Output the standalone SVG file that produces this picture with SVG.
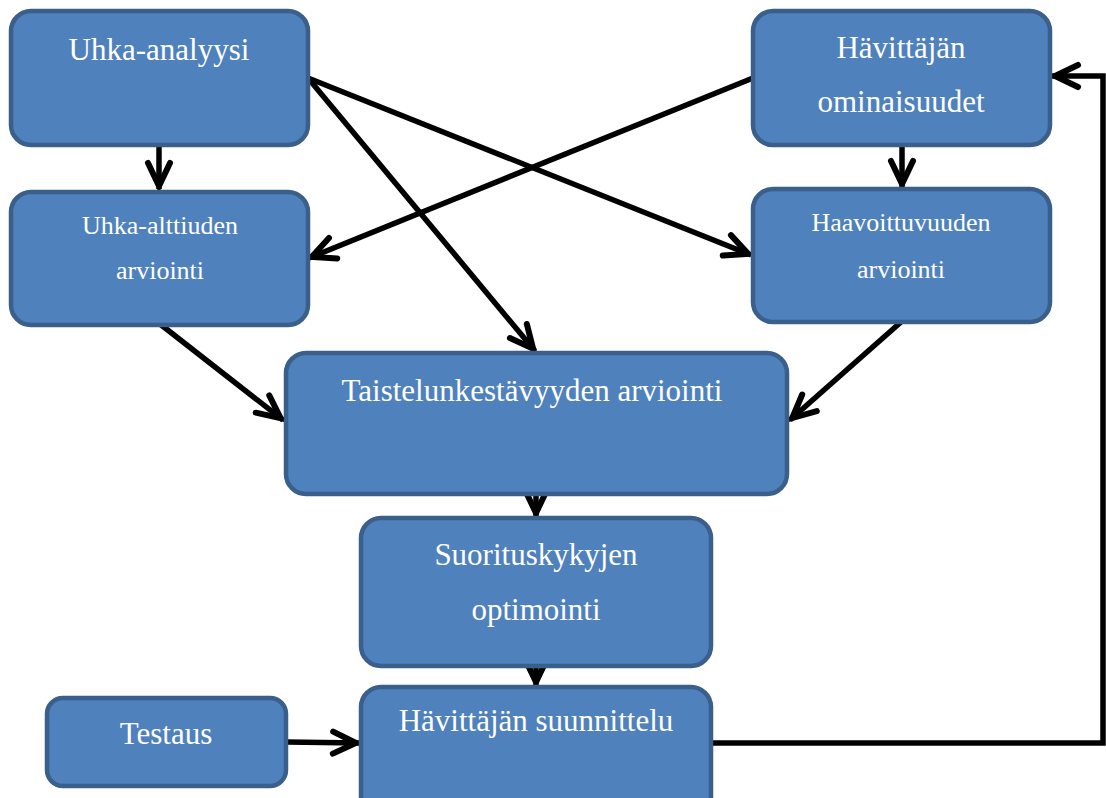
<svg xmlns="http://www.w3.org/2000/svg" width="1106" height="798" viewBox="0 0 1106 798">
<style>
.box{fill:#4F81BD;stroke:#3A5F8B;stroke-width:4.5}
.t{font-family:"Liberation Serif","Times New Roman",serif;fill:#FFFFFF;text-anchor:middle}
.big{font-size:31px}
.small{font-size:26px}
.c{fill:none;stroke:#000;stroke-width:5.5;marker-end:url(#ah)}
</style>
<defs>
<marker id="ah" markerUnits="userSpaceOnUse" viewBox="-30 -16 36 32" markerWidth="36" markerHeight="32" refX="3" refY="0" orient="auto" overflow="visible">
<path d="M-23,-11 L0,0 L-23,11" fill="none" stroke="#000" stroke-width="6" stroke-linecap="round" stroke-linejoin="miter"/>
</marker>
</defs>
<rect width="1106" height="798" fill="#FFFFFF"/>
<g id="connectors">
<path class="c" d="M159,145 L159,189"/>
<path class="c" d="M902,145 L902,187"/>
<path class="c" d="M308,78 L535,351"/>
<path class="c" d="M308,78 L751,255"/>
<path class="c" d="M753,78 L309,258"/>
<path class="c" d="M160,324 L283,420"/>
<path class="c" d="M901,322 L790,420"/>
<path class="c" d="M536,494 L536,516"/>
<path class="c" d="M536,666 L536,685"/>
<path class="c" d="M286,742 L359,743"/>
<path class="c" d="M711,743 L1103,743 L1103,76 L1052,76"/>
</g>
<g id="n-uhka-analyysi">
<rect class="box" x="11" y="11" width="297" height="134" rx="20"/>
<text class="t big" x="159" y="60">Uhka-analyysi</text>
</g>
<g id="n-havittajan-ominaisuudet">
<rect class="box" x="753" y="11" width="297" height="134" rx="20"/>
<text class="t big" x="901" y="58">Hävittäjän</text>
<text class="t big" x="901" y="112">ominaisuudet</text>
</g>
<g id="n-uhka-alttiuden">
<rect class="box" x="11" y="192" width="297" height="133" rx="20"/>
<text class="t small" x="160" y="234">Uhka-alttiuden</text>
<text class="t small" x="160" y="279">arviointi</text>
</g>
<g id="n-haavoittuvuuden">
<rect class="box" x="753" y="189" width="297" height="133" rx="20"/>
<text class="t small" x="901" y="231">Haavoittuvuuden</text>
<text class="t small" x="901" y="278">arviointi</text>
</g>
<g id="n-taistelunkestavyyden">
<rect class="box" x="286" y="353" width="501" height="141" rx="20"/>
<text class="t big" x="532" y="401">Taistelunkestävyyden arviointi</text>
</g>
<g id="n-suorituskykyjen">
<rect class="box" x="361" y="518" width="350" height="148" rx="20"/>
<text class="t big" x="536" y="565">Suorituskykyjen</text>
<text class="t big" x="536" y="620">optimointi</text>
</g>
<g id="n-testaus">
<rect class="box" x="47" y="698" width="239" height="88" rx="16"/>
<text class="t big" x="166" y="744">Testaus</text>
</g>
<g id="n-havittajan-suunnittelu">
<rect class="box" x="361" y="687" width="350" height="130" rx="20"/>
<text class="t big" x="536" y="731">Hävittäjän suunnittelu</text>
</g>
</svg>
